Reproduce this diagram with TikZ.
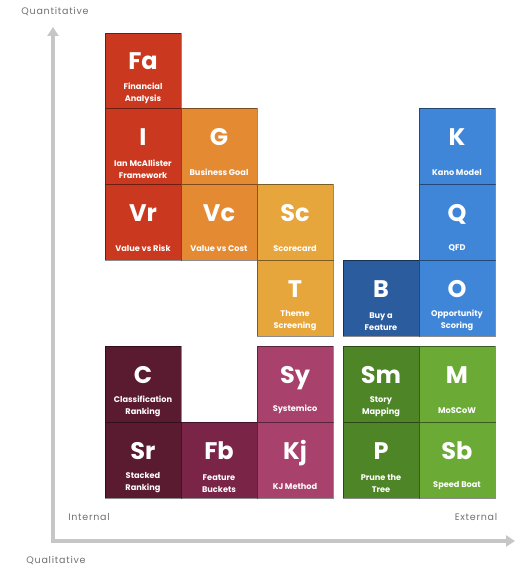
\documentclass[tikz,border=0pt]{standalone}
\usepackage{fontspec}
\setmainfont{Poppins}
\usetikzlibrary{arrows.meta}

% tile colours
\definecolor{redA}{HTML}{C9381F}
\definecolor{orangeA}{HTML}{E48A33}
\definecolor{amberA}{HTML}{E6A63C}
\definecolor{blueA}{HTML}{3F85D8}
\definecolor{blueB}{HTML}{2B5C9E}
\definecolor{maroonA}{HTML}{5A1A30}
\definecolor{plumA}{HTML}{7A2447}
\definecolor{pinkA}{HTML}{A8426C}
\definecolor{greenA}{HTML}{4E8526}
\definecolor{greenB}{HTML}{6BAA35}
\definecolor{axisgray}{HTML}{C6C6C6}
\definecolor{labelgray}{HTML}{707070}

\tikzset{
  tile/.style={draw=black, draw opacity=0.45, line width=0.8pt,
               minimum size=76pt, inner sep=0pt, outer sep=0pt},
  glyph/.style={text=white, font=\bfseries\fontsize{24}{24}\selectfont,
                inner sep=0pt, anchor=base},
  caption/.style={text=white, font=\bfseries\fontsize{8.2}{12.5}\selectfont,
                  align=center, inner sep=0pt, anchor=south},
  axis/.style={line width=4pt, draw=axisgray},
  axislabel/.style={text=labelgray,
                    font=\fontsize{9.5}{11}\selectfont\addfontfeatures{LetterSpace=8},
                    inner sep=0pt}
}

% \tile[caption bottom]{name}{left}{top}{colour}{symbol}{caption}
\newcommand\tile[7][71]{%
  \node[tile, fill=#5] (#2) at (#3+38, #4+38) {};
  \node[glyph] (#2-g) at ([yshift=-37pt]#2.north) {#6};
  \node[caption] (#2-c) at ([yshift=-#1pt]#2.north) {#7};
}

\begin{document}
\begin{tikzpicture}[x=1pt, y=-1pt]
  \useasboundingbox (0,0) rectangle (516,567);

  % axes
  \coordinate (ytop) at (53,27);
  \coordinate (origin) at (53,541);
  \coordinate (xend) at (515,541);
  \draw[axis, {Triangle[length=9pt,width=11pt]}-{Triangle[length=9pt,width=11pt]}]
    (ytop) -- (origin) -- (xend);

  \node[axislabel] (quant) at (55,12) {Quantitative};
  \node[axislabel] (qual) at (56,561) {Qualitative};
  \node[axislabel] (internal) at (89,517) {Internal};
  \node[axislabel] (external) at (476,517) {External};

  % upper left group
  \tile{Fa}{105}{33}{redA}{Fa}{Financial\\Analysis}
  \tile{I}{105}{108}{redA}{I}{Ian McAllister\\Framework}
  \tile[68]{G}{181}{108}{orangeA}{G}{Business Goal}
  \tile[68]{Vr}{105}{184}{redA}{Vr}{Value vs Risk}
  \tile[68]{Vc}{181}{184}{orangeA}{Vc}{Value vs Cost}
  \tile[68]{Sc}{257}{184}{amberA}{Sc}{Scorecard}
  \tile{T}{257}{260}{amberA}{T}{Theme\\Screening}

  % upper right group
  \tile[68]{K}{419}{108}{blueA}{K}{Kano Model}
  \tile[68]{Q}{419}{184}{blueA}{Q}{QFD}
  \tile{B}{343}{260}{blueB}{B}{Buy a\\Feature}
  \tile{O}{419}{260}{blueA}{O}{Opportunity\\Scoring}

  % lower left group
  \tile{C}{105}{346}{maroonA}{C}{Classification\\Ranking}
  \tile[68]{Sy}{257}{346}{pinkA}{Sy}{Systemico}
  \tile{Sr}{105}{422}{maroonA}{Sr}{Stacked\\Ranking}
  \tile{Fb}{181}{422}{plumA}{Fb}{Feature\\Buckets}
  \tile[68]{Kj}{257}{422}{pinkA}{Kj}{KJ Method}

  % lower right group
  \tile{Sm}{343}{346}{greenA}{Sm}{Story\\Mapping}
  \tile[68]{M}{419}{346}{greenB}{M}{MoSCoW}
  \tile{P}{343}{422}{greenA}{P}{Prune the\\Tree}
  \tile[68]{Sb}{419}{422}{greenB}{Sb}{Speed Boat}
\end{tikzpicture}
\end{document}
